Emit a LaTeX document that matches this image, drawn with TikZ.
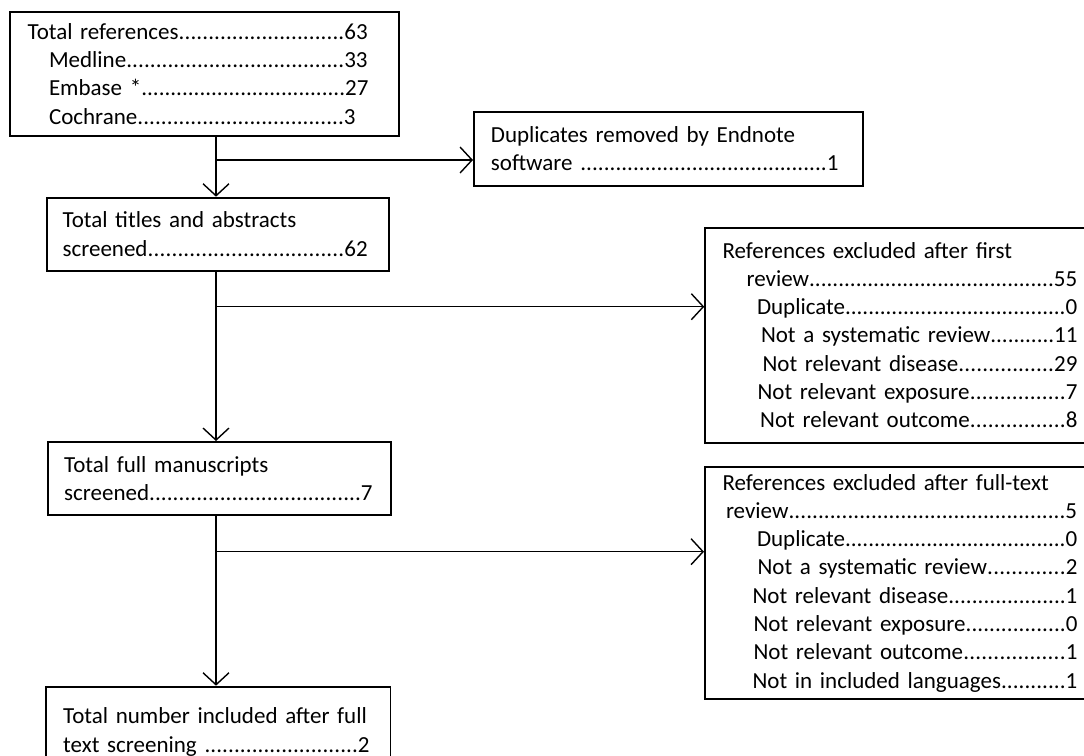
\documentclass[tikz,border=0pt]{standalone}
\usepackage{fontspec}
\setmainfont{Carlito}
\usetikzlibrary{arrows.meta}
\newcommand{\leaderline}[4]{\leavevmode\hbox to #1{\hspace*{#2}#3\xleaders\hbox{.}\hfill #4}}
\tikzset{
  stage/.style={draw, line width=0.9pt, anchor=north west, align=left, inner ysep=0pt,
    font=\fontsize{11.5}{14.15}\selectfont},
  flow/.style={line width=0.7pt, -{Straight Barb[length=6pt,width=13pt]}},
}
\begin{document}
\begin{tikzpicture}[x=0.5pt,y=-0.5pt]
        \useasboundingbox (0,0) rectangle (1084,756);
        \node[stage, inner xsep=8.7pt, text width=177pt, minimum height=62.2pt] (refs) at (9.3,10.7)
            {\leaderline{170.2pt}{0pt}{Total references}{63}\\
             \leaderline{170.2pt}{10.7pt}{Medline}{33}\\
             \leaderline{170.6pt}{10.7pt}{Embase *}{27}\\
             \leaderline{164.2pt}{10.7pt}{Cochrane}{3}};
        \node[stage, inner xsep=8.5pt, text width=177.5pt, minimum height=37.15pt] (dupes) at (473,110.7)
            {Duplicates removed by Endnote\\
             \leaderline{174pt}{0pt}{software\ }{1}};
        \node[stage, inner xsep=8pt, text width=155pt, minimum height=36.65pt] (titles) at (45.7,196.7)
            {Total titles and abstracts\\
             \leaderline{152.7pt}{0pt}{screened}{62}};
        \node[stage, inner xsep=8.7pt, text width=178.6pt, minimum height=107.5pt] (firstout) at (704.3,226.7)
            {References excluded after first\\
             \leaderline{177.5pt}{12pt}{review}{55}\\
             \leaderline{177.5pt}{17.2pt}{Duplicate}{0}\\
             \leaderline{177.5pt}{19.2pt}{Not a systematic review}{11}\\
             \leaderline{177.5pt}{20pt}{Not relevant disease}{29}\\
             \leaderline{177.5pt}{17.5pt}{Not relevant exposure}{7}\\
             \leaderline{177.5pt}{18.8pt}{Not relevant outcome}{8}};
        \node[stage, inner xsep=8.3pt, text width=155pt, minimum height=36.5pt] (fulltext) at (46.7,441)
            {Total full manuscripts\\
             \leaderline{154.35pt}{0pt}{screened}{7}};
        \node[stage, inner xsep=8.85pt, text width=178.6pt, minimum height=116.2pt] (secondout) at (704,466)
            {References excluded after full-text\\
             \leaderline{177.5pt}{1.7pt}{review}{5}\\
             \leaderline{177.5pt}{17.2pt}{Duplicate}{0}\\
             \leaderline{177.5pt}{17.5pt}{Not a systematic review}{2}\\
             \leaderline{177.5pt}{15pt}{Not relevant disease}{1}\\
             \leaderline{177.5pt}{15.5pt}{Not relevant exposure}{0}\\
             \leaderline{177.5pt}{15.5pt}{Not relevant outcome}{1}\\
             \leaderline{177.5pt}{15pt}{Not in included languages}{1}};
        \node[stage, inner xsep=8.65pt, text width=155pt, minimum height=45.5pt] (included) at (45,685.7)
            {Total number included after full\\
             \leaderline{153.35pt}{0pt}{text screening\ }{2}};
        \coordinate (trunk) at (216,0);
        \coordinate (split1) at (216,160);
        \coordinate (split2) at (216,306.7);
        \coordinate (split3) at (216,551.7);
        \draw[flow] (refs.south -| trunk) -- (titles.north -| trunk);
        \draw[flow] (split1) -- (split1 -| dupes.west);
        \draw[flow] (titles.south -| trunk) -- (fulltext.north -| trunk);
        \draw[flow] (split2) -- (split2 -| firstout.west);
        \draw[flow] (fulltext.south -| trunk) -- (included.north -| trunk);
        \draw[flow] (split3) -- (split3 -| secondout.west);
    \end{tikzpicture}
\end{document}
